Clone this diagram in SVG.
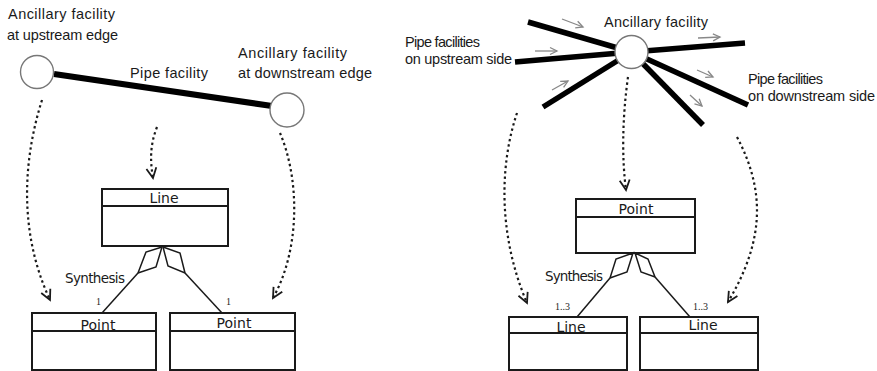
<svg xmlns="http://www.w3.org/2000/svg" width="877" height="371" viewBox="0 0 877 371">
  <style>
    .lbl { font-family: "Liberation Sans", Arial, sans-serif; font-size: 14.5px; fill: #1a1a1a; }
    .cls { font-family: "DejaVu Sans", "Liberation Sans", sans-serif; font-size: 14px; fill: #1a1a1a; text-anchor: middle; }
    .syn { font-family: "DejaVu Sans", "Liberation Sans", sans-serif; font-size: 13.5px; fill: #1a1a1a; }
    .mult { font-family: "Liberation Serif", "Times New Roman", serif; font-size: 10px; fill: #222; }
    .box { fill: #fff; stroke: #1a1a1a; stroke-width: 2; }
    .div { stroke: #1a1a1a; stroke-width: 2; }
    .fac { fill: #fff; stroke: #777; stroke-width: 1.4; }
    .pipe { stroke: #000; stroke-width: 6; stroke-linecap: butt; }
    .pipe5 { stroke: #000; stroke-width: 5.5; stroke-linecap: butt; }
    .map { fill: none; stroke: #1a1a1a; stroke-width: 2.2; stroke-dasharray: 2.4 3; marker-end: url(#open-v); }
    .flow { fill: none; stroke: #888; stroke-width: 1.3; marker-end: url(#flow-head); }
    .agg { fill: #fff; stroke: #1a1a1a; stroke-width: 1.5; stroke-linejoin: miter; }
    .assoc { stroke: #1a1a1a; stroke-width: 1.5; }
  </style>
  <defs>
    <marker id="open-v" markerUnits="userSpaceOnUse" markerWidth="16" markerHeight="16" refX="0" refY="0" viewBox="-12 -8 16 16" orient="auto">
      <path d="M-10,-5 L0,0 L-10,5" fill="none" stroke="#1a1a1a" stroke-width="1.8"/>
    </marker>
    <marker id="flow-head" markerUnits="userSpaceOnUse" markerWidth="12" markerHeight="10" refX="0" refY="0" viewBox="-9 -5 12 10" orient="auto">
      <path d="M-7,-3.5 L0,0 L-7,3.5" fill="none" stroke="#888" stroke-width="1.3"/>
    </marker>
  </defs>

  <!-- Left: a single pipe between two edge facilities -->
  <g id="pipe-facility">
    <line class="pipe" x1="54" y1="74" x2="272" y2="106"/>
    <text class="lbl" x="130" y="78" textLength="78">Pipe facility</text>
  </g>
  <g id="upstream-facility">
    <circle class="fac" cx="37" cy="72" r="16.5"/>
    <text class="lbl" x="8" y="19" textLength="107">Ancillary facility</text>
    <text class="lbl" x="7" y="40" textLength="111">at upstream edge</text>
  </g>
  <g id="downstream-facility">
    <circle class="fac" cx="287" cy="110" r="17"/>
    <text class="lbl" x="238" y="58" textLength="109">Ancillary facility</text>
    <text class="lbl" x="238" y="78" textLength="134">at downstream edge</text>
  </g>

  <g id="class-line-left">
    <rect class="box" x="102" y="189" width="126" height="57"/>
    <line class="div" x1="102" y1="206" x2="228" y2="206"/>
    <text class="cls" x="164" y="203">Line</text>
  </g>
  <g id="class-point-left-a">
    <rect class="box" x="32" y="313" width="124" height="57"/>
    <line class="div" x1="32" y1="331" x2="156" y2="331"/>
    <text class="cls" x="98" y="330">Point</text>
  </g>
  <g id="class-point-left-b">
    <rect class="box" x="170" y="313" width="125" height="57"/>
    <line class="div" x1="170" y1="331" x2="295" y2="331"/>
    <text class="cls" x="234" y="328">Point</text>
  </g>

  <!-- Right: one facility joining several pipes -->
  <g id="pipes-upstream">
    <line class="pipe5" x1="528" y1="22" x2="631.5" y2="52"/>
    <line class="pipe5" x1="515" y1="62" x2="631.5" y2="52"/>
    <line class="pipe5" x1="543" y1="107" x2="631.5" y2="52"/>
    <text class="lbl" x="405" y="47" font-size="13.5" textLength="75">Pipe facilities</text>
    <text class="lbl" x="405" y="64" font-size="13.5" textLength="107">on upstream side</text>
  </g>
  <g id="pipes-downstream">
    <line class="pipe5" x1="631.5" y1="52" x2="745" y2="43"/>
    <line class="pipe5" x1="631.5" y1="52" x2="748" y2="105"/>
    <line class="pipe5" x1="631.5" y1="52" x2="703" y2="125"/>
    <text class="lbl" x="748" y="84" font-size="13.5" textLength="75">Pipe facilities</text>
    <text class="lbl" x="748" y="101" font-size="13.5" textLength="127">on downstream side</text>
  </g>
  <g id="ancillary-facility">
    <circle class="fac" cx="631.5" cy="52" r="16.5"/>
    <text class="lbl" x="604" y="27" font-size="14" textLength="104">Ancillary facility</text>
  </g>
  <g id="flow-directions">
    <line class="flow" x1="562" y1="19" x2="583" y2="27"/>
    <line class="flow" x1="535" y1="51" x2="557" y2="51"/>
    <line class="flow" x1="552" y1="90" x2="568" y2="81"/>
    <line class="flow" x1="698" y1="38" x2="720" y2="37"/>
    <line class="flow" x1="697" y1="70" x2="713" y2="77"/>
    <line class="flow" x1="690" y1="95" x2="702" y2="106"/>
  </g>

  <g id="class-point-right">
    <rect class="box" x="576" y="199" width="119" height="54"/>
    <line class="div" x1="576" y1="217" x2="695" y2="217"/>
    <text class="cls" x="636" y="214">Point</text>
  </g>
  <g id="class-line-right-a">
    <rect class="box" x="509" y="317" width="118" height="53"/>
    <line class="div" x1="509" y1="333" x2="627" y2="333"/>
    <text class="cls" x="571" y="332">Line</text>
  </g>
  <g id="class-line-right-b">
    <rect class="box" x="640" y="317" width="118" height="53"/>
    <line class="div" x1="640" y1="333" x2="758" y2="333"/>
    <text class="cls" x="703" y="330">Line</text>
  </g>

  <!-- Connectors: mapping arrows and synthesis (aggregation) links -->
  <g id="connectors">
    <path class="map" d="M42,100 C20,170 22,240 50,300"/>
    <path class="map" d="M157,127 C150,145 150,160 153,178"/>
    <path class="map" d="M280,133 C300,180 300,250 273,298"/>
    <path class="map" d="M517,113 C498,170 500,240 527,303"/>
    <path class="map" d="M628,77 C622,120 622,160 626,190"/>
    <path class="map" d="M737,137 C765,190 765,240 728,302"/>

    <line class="assoc" x1="138" y1="273" x2="102" y2="313"/>
    <line class="assoc" x1="185" y1="273" x2="222" y2="313"/>
    <polygon class="agg" points="162,247 146,252 138,273 156,267"/>
    <polygon class="agg" points="163,247 180,253 185,273 168,266"/>
    <text class="syn" x="65" y="283" textLength="60">Synthesis</text>
    <text class="mult" x="96" y="305">1</text>
    <text class="mult" x="226" y="305">1</text>

    <line class="assoc" x1="610" y1="278" x2="577" y2="317"/>
    <line class="assoc" x1="655" y1="277" x2="690" y2="317"/>
    <polygon class="agg" points="633,253 616,259 610,278 627,272"/>
    <polygon class="agg" points="635,253 648,259 655,277 641,272"/>
    <text class="syn" x="545" y="281" textLength="58">Synthesis</text>
    <text class="mult" x="555" y="310">1..3</text>
    <text class="mult" x="693" y="310">1..3</text>
  </g>
</svg>
